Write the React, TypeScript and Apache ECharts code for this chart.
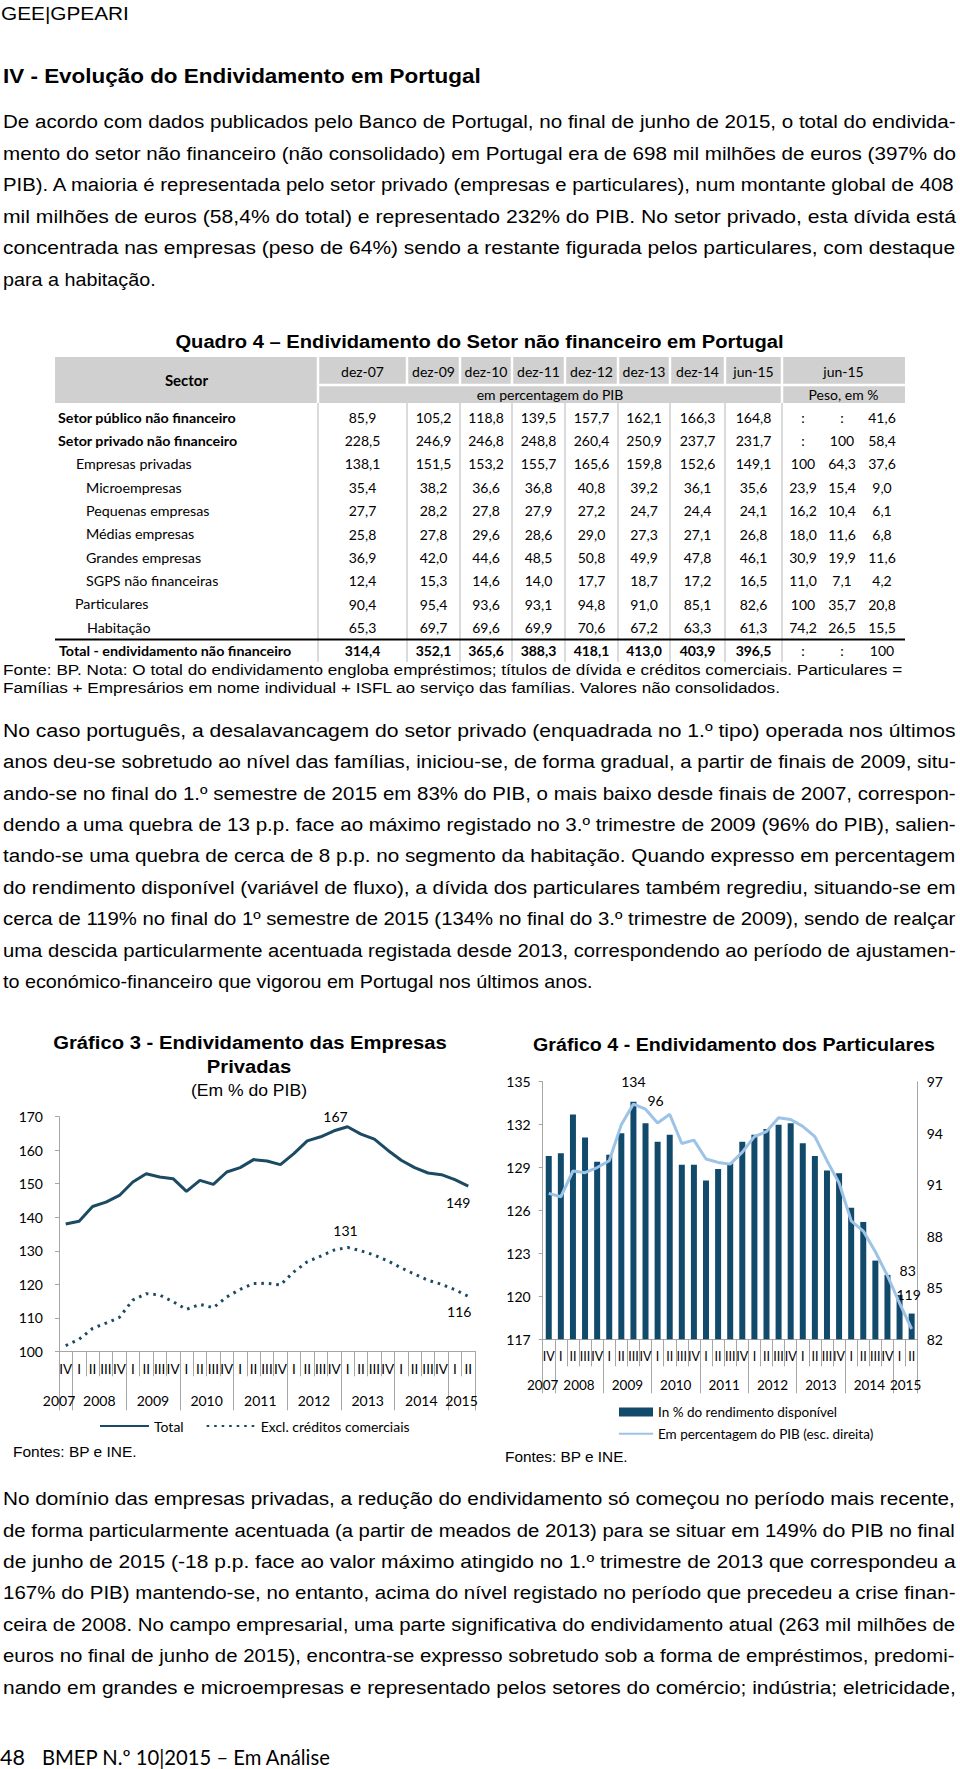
import React, { useEffect, useRef } from 'react';
import * as echarts from 'echarts';

// ---------------- data ----------------
const quarterLabels = ['IV','I','II','III','IV','I','II','III','IV','I','II','III','IV','I','II','III','IV','I','II','III','IV','I','II','III','IV','I','II','III','IV','I','II'];
const years = ['2007','2008','2009','2010','2011','2012','2013','2014','2015'];
const quartersInYear = [1, 4, 4, 4, 4, 4, 4, 4, 2];

const empresasTotal = [138.0,138.8,143.2,144.5,146.5,150.5,153.0,152.0,151.5,147.7,151.0,149.8,153.5,154.8,157.2,156.8,155.7,159.0,162.8,164.0,165.8,167.0,164.8,163.3,160.0,157.0,154.8,153.2,152.7,151.2,149.3];
const empresasExclCreditos = [101.7,103.6,106.8,108.4,110.1,115.3,117.2,116.8,114.8,112.5,114.0,113.0,116.2,118.5,120.2,120.3,119.8,123.7,126.7,128.4,130.2,131.0,130.0,128.7,127.0,124.9,123.0,121.2,120.0,118.4,116.4];
const particularesRendimento = [129.8,130.0,132.7,131.1,129.4,129.9,131.4,133.6,132.1,130.8,131.3,129.2,129.2,128.1,128.9,129.3,130.8,131.3,131.7,132.0,132.1,130.7,129.8,128.8,128.6,126.2,125.2,122.5,121.5,120.1,118.8];
const particularesPIB = [90.5,90.3,91.8,91.7,92.0,92.4,94.5,95.7,95.4,94.6,95.1,93.4,93.6,92.5,92.3,92.2,92.9,93.8,94.1,94.9,94.8,94.4,93.8,92.4,91.1,88.9,88.3,87.1,85.7,84.1,82.6];

const seriesNames3 = ['Total', 'Excl. créditos comerciais'];
const seriesNames4 = ['In % do rendimento disponível', 'Em percentagem do PIB (esc. direita)'];

const tableColumns = ['dez-07','dez-09','dez-10','dez-11','dez-12','dez-13','dez-14','jun-15'];
const tableRows = [
  'Setor público não financeiro',
  'Setor privado não financeiro',
  'Empresas privadas',
  'Microempresas',
  'Pequenas empresas',
  'Médias empresas',
  'Grandes empresas',
  'SGPS não financeiras',
  'Particulares',
  'Habitação',
  'Total - endividamento não financeiro',
];
const tableValues = [
  ['85,9','105,2','118,8','139,5','157,7','162,1','166,3','164,8'],
  ['228,5','246,9','246,8','248,8','260,4','250,9','237,7','231,7'],
  ['138,1','151,5','153,2','155,7','165,6','159,8','152,6','149,1'],
  ['35,4','38,2','36,6','36,8','40,8','39,2','36,1','35,6'],
  ['27,7','28,2','27,8','27,9','27,2','24,7','24,4','24,1'],
  ['25,8','27,8','29,6','28,6','29,0','27,3','27,1','26,8'],
  ['36,9','42,0','44,6','48,5','50,8','49,9','47,8','46,1'],
  ['12,4','15,3','14,6','14,0','17,7','18,7','17,2','16,5'],
  ['90,4','95,4','93,6','93,1','94,8','91,0','85,1','82,6'],
  ['65,3','69,7','69,6','69,9','70,6','67,2','63,3','61,3'],
  ['314,4','352,1','365,6','388,3','418,1','413,0','403,9','396,5'],
];
const tableWeights = [
  [':',':','41,6'],
  [':','100','58,4'],
  ['100','64,3','37,6'],
  ['23,9','15,4','9,0'],
  ['16,2','10,4','6,1'],
  ['18,0','11,6','6,8'],
  ['30,9','19,9','11,6'],
  ['11,0','7,1','4,2'],
  ['100','35,7','20,8'],
  ['74,2','26,5','15,5'],
  [':',':','100'],
];

const PARA1 = [
  'De acordo com dados publicados pelo Banco de Portugal, no final de junho de 2015, o total do endivida-',
  'mento do setor não financeiro (não consolidado) em Portugal era de 698 mil milhões de euros (397% do',
  'PIB). A maioria é representada pelo setor privado (empresas e particulares), num montante global de 408',
  'mil milhões de euros (58,4% do total) e representado 232% do PIB. No setor privado, esta dívida está',
  'concentrada nas empresas (peso de 64%) sendo a restante figurada pelos particulares, com destaque',
  'para a habitação.',
];
const PARA2 = [
  'No caso português, a desalavancagem do setor privado (enquadrada no 1.º tipo) operada nos últimos',
  'anos deu-se sobretudo ao nível das famílias, iniciou-se, de forma gradual, a partir de finais de 2009, situ-',
  'ando-se no final do 1.º semestre de 2015 em 83% do PIB, o mais baixo desde finais de 2007, correspon-',
  'dendo a uma quebra de 13 p.p. face ao máximo registado no 3.º trimestre de 2009 (96% do PIB), salien-',
  'tando-se uma quebra de cerca de 8 p.p. no segmento da habitação. Quando expresso em percentagem',
  'do rendimento disponível (variável de fluxo), a dívida dos particulares também regrediu, situando-se em',
  'cerca de 119% no final do 1º semestre de 2015 (134% no final do 3.º trimestre de 2009), sendo de realçar',
  'uma descida particularmente acentuada registada desde 2013, correspondendo ao período de ajustamen-',
  'to económico-financeiro que vigorou em Portugal nos últimos anos.',
];
const PARA3 = [
  'No domínio das empresas privadas, a redução do endividamento só começou no período mais recente,',
  'de forma particularmente acentuada (a partir de meados de 2013) para se situar em 149% do PIB no final',
  'de junho de 2015 (-18 p.p. face ao valor máximo atingido no 1.º trimestre de 2013 que correspondeu a',
  '167% do PIB) mantendo-se, no entanto, acima do nível registado no período que precedeu a crise finan-',
  'ceira de 2008. No campo empresarial, uma parte significativa do endividamento atual (263 mil milhões de',
  'euros no final de junho de 2015), encontra-se expresso sobretudo sob a forma de empréstimos, predomi-',
  'nando em grandes e microempresas e representado pelos setores do comércio; indústria; eletricidade,',
];
const NOTE = [
  'Fonte: BP. Nota: O total do endividamento engloba empréstimos; títulos de dívida e créditos comerciais. Particulares =',
  'Famílias + Empresários em nome individual + ISFL ao serviço das famílias. Valores não consolidados.',
];

// ---------------- layout / style ----------------
const ARIAL = 'Liberation Sans';
const CAL = 'Lato';
const AXIS_GRAY = '#a6a6a6';
const C3 = '#1b4a63';
const BAR4 = '#124a6c';
const LINE4 = '#9dc3e6';

const colEdges = [318, 407, 460, 512, 565, 618, 670, 725, 782, 905];
const pesoCenters = [803, 842, 882];
const rowIndent = [58, 58, 76, 86, 86, 86, 86, 86, 75, 87, 59];
const rowBoldLabel = [true, true, false, false, false, false, false, false, false, false, true];
const rowBoldValues = [false, false, false, false, false, false, false, false, false, false, true];

function buildYearAxis() {
  const labels: string[] = new Array(32).fill('');
  const bounds = new Set<number>();
  let start = 0;
  quartersInYear.forEach((n, k) => {
    bounds.add(start);
    labels[Math.floor(start + n / 2)] = years[k];
    start += n;
  });
  bounds.add(start);
  return { labels, bounds };
}

export default function App() {
  const ref = useRef<HTMLDivElement>(null);

  useEffect(() => {
    if (!ref.current) return;
    const chart = echarts.init(ref.current, null, { renderer: 'svg' });

    const cv = document.createElement('canvas');
    const ctx = cv.getContext('2d')!;
    const measure = (t: string, size: number, fam: string, wt: string) => {
      ctx.font = `${wt} ${size}px "${fam}"`;
      return ctx.measureText(t).width || 1;
    };

    const els: any[] = [];
    const text = (t: string, x: number, y: number, size: number, o: any = {}) => {
      const fam = o.fam ?? ARIAL;
      const wt = o.wt ?? 'normal';
      const sx = o.w ? o.w / measure(t, size, fam, wt) : (o.sx ?? 1);
      els.push({
        type: 'text', x, y, scaleX: sx, silent: true,
        style: { text: t, x: 0, y: 0, fill: o.color ?? '#000', fontSize: size, fontFamily: fam, fontWeight: wt, align: o.align ?? 'left', verticalAlign: 'middle' },
      });
      return sx;
    };
    const rect = (x: number, y: number, w: number, h: number, fill: string) =>
      els.push({ type: 'rect', silent: true, shape: { x, y, width: w, height: h }, style: { fill } });
    const line = (x1: number, y1: number, x2: number, y2: number, stroke: string, lw: number) =>
      els.push({ type: 'line', silent: true, shape: { x1, y1, x2, y2 }, style: { stroke, lineWidth: lw } });

    const para = (lines: string[], x0: number, y0: number, dy: number, size: number, W: number, justifyLast: boolean) => {
      const nat = lines.map((l) => measure(l, size, ARIAL, 'normal'));
      const just = lines.map((_, i) => i < lines.length - 1 || justifyLast);
      const sc = nat.map((n) => W / n).filter((_, i) => just[i]);
      const avg = sc.reduce((a, b) => a + b, 0) / Math.max(1, sc.length);
      lines.forEach((l, i) => {
        text(l, x0, y0 + i * dy, size, { sx: just[i] ? W / nat[i] : Math.min(avg, 1.04) });
      });
    };

    // header
    text('GEE|GPEARI', 1, 13.5, 19, { w: 128 });
    text('IV - Evolução do Endividamento em Portugal', 3, 76, 20, { wt: 'bold', w: 478 });
    para(PARA1, 3, 121.5, 31.5, 19, 953, false);

    // table
    text('Quadro 4 – Endividamento do Setor não financeiro em Portugal', 479.5, 341, 19, { wt: 'bold', w: 609, align: 'center' });
    rect(55, 357, 850, 46, '#d0d0d0');
    line(318, 357, 318, 403, '#fff', 2.5);
    line(318, 385, 905, 385, '#fff', 2.5);
    for (let i = 1; i < colEdges.length - 1; i++) {
      const full = i === colEdges.length - 2;
      line(colEdges[i], 357, colEdges[i], full ? 403 : 385, '#fff', 2.5);
    }
    for (let i = 0; i < colEdges.length - 1; i++) {
      line(colEdges[i], 403, colEdges[i], 662, '#cfcfcf', 1.5);
    }
    text('Sector', 186.5, 380, 15, { fam: CAL, wt: 'bold', align: 'center' });
    tableColumns.forEach((c, i) => {
      text(c, (colEdges[i] + colEdges[i + 1]) / 2, 371, 14, { fam: CAL, align: 'center' });
    });
    text('jun-15', 843.5, 371, 14, { fam: CAL, align: 'center' });
    text('em percentagem do PIB', 550, 394, 14, { fam: CAL, align: 'center' });
    text('Peso, em %', 843.5, 394, 14, { fam: CAL, align: 'center' });

    const labScale = 178 / measure(tableRows[0], 14, CAL, 'bold');
    const rowY0 = 417.3, rowDy = 23.34;
    tableRows.forEach((r, i) => {
      const y = rowY0 + i * rowDy;
      text(r, rowIndent[i], y, 14, { fam: CAL, wt: rowBoldLabel[i] ? 'bold' : 'normal', sx: labScale });
      tableValues[i].forEach((v, j) => {
        text(v, (colEdges[j] + colEdges[j + 1]) / 2, y, 14, { fam: CAL, wt: rowBoldValues[i] ? 'bold' : 'normal', align: 'center' });
      });
      tableWeights[i].forEach((v, j) => {
        text(v, pesoCenters[j], y, 14, { fam: CAL, align: 'center' });
      });
    });
    line(55, 639.5, 905, 639.5, '#000', 2);
    const noteSx = text(NOTE[0], 3, 670, 14.5, { w: 900 });
    text(NOTE[1], 3, 688, 14.5, { sx: noteSx });

    para(PARA2, 3, 730, 31.4, 19, 953, false);

    // chart titles
    const t3 = text('Gráfico 3 - Endividamento das Empresas', 250, 1042.7, 19, { wt: 'bold', w: 394, align: 'center' });
    text('Privadas', 249, 1066.7, 19, { wt: 'bold', sx: t3, align: 'center' });
    text('(Em % do PIB)', 249, 1090, 17, { w: 116, align: 'center' });
    text('Gráfico 4 - Endividamento dos Particulares', 734, 1045, 19, { wt: 'bold', w: 402, align: 'center' });
    text('Fontes: BP e INE.', 13, 1451.7, 15, { w: 124 });
    text('Fontes: BP e INE.', 505, 1456.7, 15, { w: 123 });

    para(PARA3, 3, 1498.5, 31.4, 19, 953, true);

    text('48', 0, 1757, 21, { fam: CAL, w: 25 });
    text('BMEP N.º 10|2015 – Em Análise', 42, 1757, 21, { fam: CAL, w: 289 });

    // axes
    const { labels: yearLabels, bounds } = buildYearAxis();
    const yearSlots = yearLabels.map((_, i) => String(i));
    const quarterAxis = (gridIndex: number, margin: number, tickLen: number, fs: number) => ({
      type: 'category', gridIndex, data: quarterLabels, boundaryGap: true, position: 'bottom',
      axisLine: { show: true, onZero: false, lineStyle: { color: AXIS_GRAY, width: 1 } },
      axisTick: { show: true, interval: 0, length: tickLen, alignWithLabel: false, lineStyle: { color: AXIS_GRAY } },
      axisLabel: { show: true, interval: 0, margin, hideOverlap: false, fontFamily: CAL, fontSize: fs, color: '#000' },
      splitLine: { show: false },
    });
    const yearAxis = (gridIndex: number, margin: number, tickLen: number, fs: number) => ({
      type: 'category', gridIndex, data: yearSlots, boundaryGap: false, position: 'bottom',
      axisLine: { show: false, onZero: false },
      axisTick: { show: true, interval: (i: number) => bounds.has(i), length: tickLen, lineStyle: { color: AXIS_GRAY } },
      axisLabel: { show: true, interval: 0, margin, hideOverlap: false, formatter: (_v: string, i: number) => yearLabels[i] || '', fontFamily: CAL, fontSize: fs, color: '#000' },
      splitLine: { show: false },
    });

    const lbl = (v: number, i: number, marks: Record<number, any>) =>
      marks[i] ? { value: v, label: { show: true, ...marks[i] } } : v;
    const lblStyle = { fontFamily: CAL, fontSize: 14, color: '#000', formatter: (p: any) => String(Math.round(p.value)) };

    const option: any = {
      animation: false,
      backgroundColor: '#fff',
      graphic: { elements: els },
      grid: [
        { left: 59, top: 1116.7, width: 416, height: 234.6, containLabel: false, outerBoundsMode: 'none' },
        { left: 542.7, top: 1081.7, width: 375, height: 257.6, containLabel: false, outerBoundsMode: 'none' },
      ],
      xAxis: [quarterAxis(0, 11, 25, 13.5), yearAxis(0, 42, 59, 14), quarterAxis(1, 11, 27, 12.5), yearAxis(1, 39, 54, 13.5)],
      yAxis: [
        { type: 'value', gridIndex: 0, min: 100, max: 170, interval: 10,
          axisLine: { show: true, lineStyle: { color: AXIS_GRAY } }, axisTick: { show: true, length: 4, lineStyle: { color: AXIS_GRAY } },
          axisLabel: { margin: 16, fontFamily: CAL, fontSize: 14, color: '#000' }, splitLine: { show: false } },
        { type: 'value', gridIndex: 1, position: 'left', min: 117, max: 135, interval: 3,
          axisLine: { show: true, lineStyle: { color: AXIS_GRAY } }, axisTick: { show: true, length: 4, lineStyle: { color: AXIS_GRAY } },
          axisLabel: { margin: 12, fontFamily: CAL, fontSize: 14, color: '#000' }, splitLine: { show: false } },
        { type: 'value', gridIndex: 1, position: 'right', min: 82, max: 97, interval: 1,
          axisLine: { show: true, lineStyle: { color: AXIS_GRAY } }, axisTick: { show: false },
          axisLabel: { margin: 9, fontFamily: CAL, fontSize: 14, color: '#000', formatter: (v: number) => ((v - 82) % 3 === 0 ? String(v) : '') },
          splitLine: { show: false } },
      ],
      legend: [
        { show: true, orient: 'horizontal', left: 99, top: 1419, itemWidth: 49, itemHeight: 14, itemGap: 22, padding: 0, selectedMode: false,
          data: seriesNames3.map((n) => ({ name: n, itemStyle: { opacity: 0 } })),
          textStyle: { fontFamily: CAL, fontSize: 14, color: '#000' } },
        { show: true, orient: 'vertical', left: 618, top: 1405, itemWidth: 34, itemHeight: 9, itemGap: 7.7, padding: 0, selectedMode: false,
          data: [{ name: seriesNames4[0], icon: 'rect' }, { name: seriesNames4[1], itemStyle: { opacity: 0 } }],
          textStyle: { fontFamily: CAL, fontSize: 13.5, color: '#000' } },
      ],
      series: [
        { type: 'line', name: seriesNames3[0], xAxisIndex: 0, yAxisIndex: 0, symbol: 'circle', symbolSize: 0, showAllSymbol: true,
          lineStyle: { color: C3, width: 3 }, itemStyle: { color: C3 },
          label: { show: false, ...lblStyle },
          data: empresasTotal.map((v, i) => lbl(v, i, { 21: { position: 'top', offset: [-12, 2] }, 30: { position: 'bottom', offset: [-10, 4] } })) },
        { type: 'line', name: seriesNames3[1], xAxisIndex: 0, yAxisIndex: 0, symbol: 'circle', symbolSize: 0, showAllSymbol: true,
          lineStyle: { color: C3, width: 3, type: [2.6, 4.9], cap: 'butt' }, itemStyle: { color: C3 },
          label: { show: false, ...lblStyle },
          data: empresasExclCreditos.map((v, i) => lbl(v, i, { 21: { position: 'top', offset: [-2, -5] }, 30: { position: 'bottom', offset: [-9, 3] } })) },
        { type: 'bar', name: seriesNames4[0], xAxisIndex: 2, yAxisIndex: 1, barWidth: 6, itemStyle: { color: BAR4 },
          label: { show: false, ...lblStyle },
          data: particularesRendimento.map((v, i) => lbl(v, i, { 7: { position: 'top', offset: [0, -8] }, 30: { position: 'top', offset: [-3, -7] } })) },
        { type: 'line', name: seriesNames4[1], xAxisIndex: 2, yAxisIndex: 2, symbol: 'circle', symbolSize: 0, showAllSymbol: true,
          lineStyle: { color: LINE4, width: 3 }, itemStyle: { color: LINE4 },
          label: { show: false, ...lblStyle },
          data: particularesPIB.map((v, i) => lbl(v, i, { 7: { position: 'right', offset: [9, -4] }, 30: { position: 'top', offset: [-4, -46] } })) },
      ],
    };

    chart.setOption(option);
    return () => chart.dispose();
  }, []);

  return <div ref={ref} style={{ position: 'absolute', left: 0, top: 0, width: 960, height: 1769 }} />;
}
